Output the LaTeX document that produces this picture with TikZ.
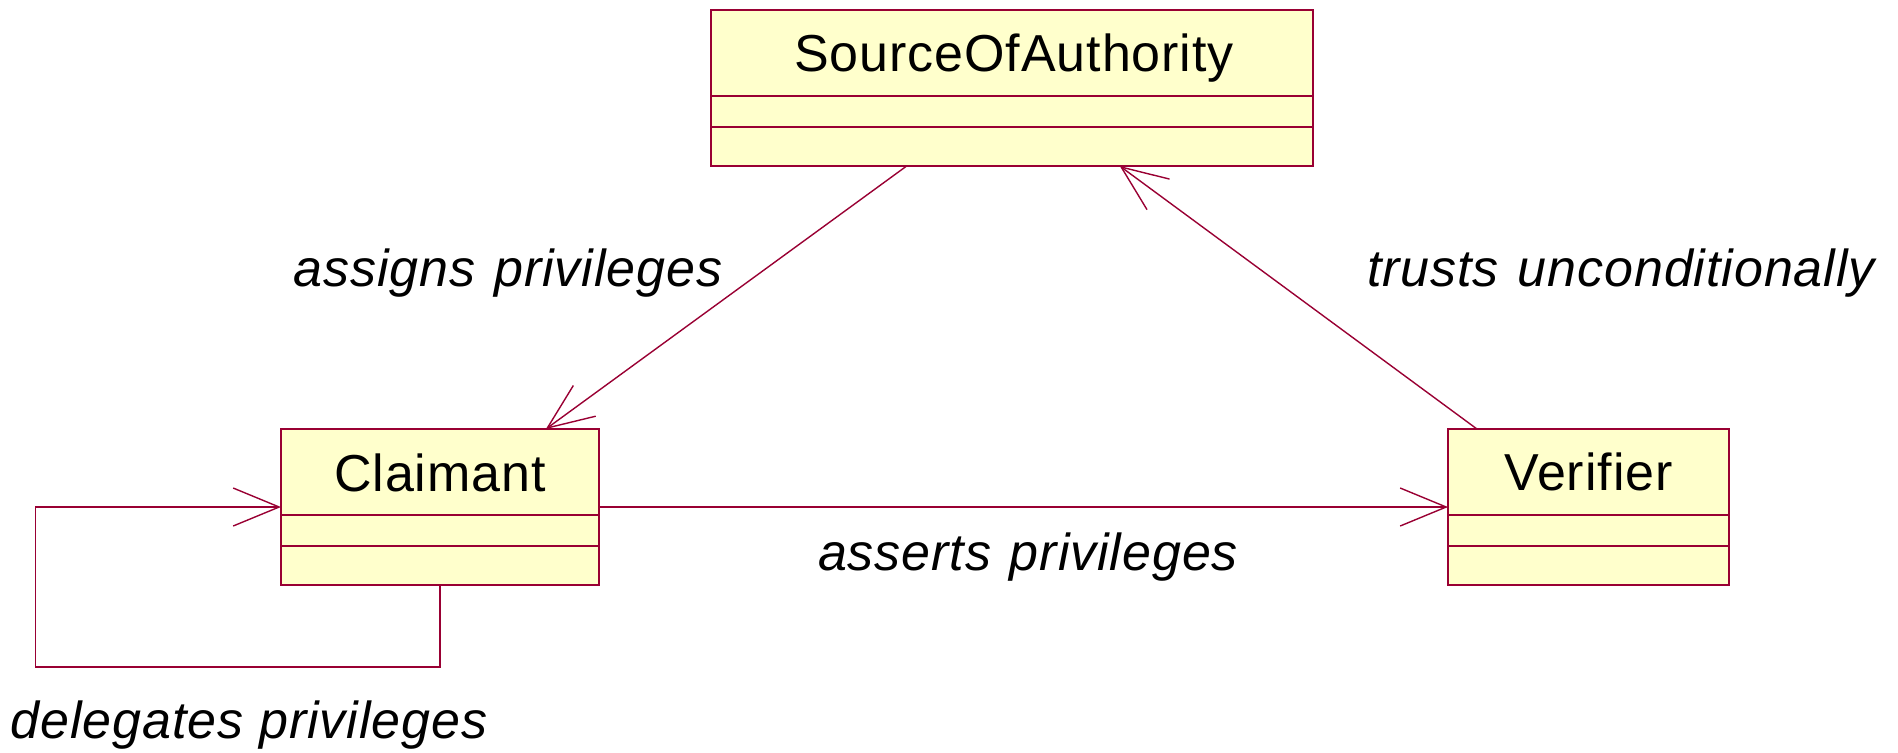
\documentclass[tikz,border=0pt]{standalone}
\usepackage{fontspec}
\setmainfont[LetterSpace=1.8]{Liberation Sans}
\usetikzlibrary{arrows.meta,calc}
\definecolor{umlline}{RGB}{153,0,51}
\definecolor{umlfill}{RGB}{255,255,204}

\begin{document}
\begin{tikzpicture}[x=0.5pt,y=-0.5pt,
  classbox/.style={draw=umlline, fill=umlfill, line width=0.7pt, inner sep=0pt, outer sep=0pt, minimum height=78pt},
  compart/.style={draw=umlline, line width=0.7pt},
  classname/.style={anchor=base, inner sep=0pt, font=\fontsize{26}{30}\selectfont},
  rolelabel/.style={anchor=base, inner sep=0pt, font=\fontsize{26}{30}\selectfont\itshape},
  assoc/.style={draw=umlline, line width=0.7pt,
    -{Straight Barb[length=23pt,width=19pt,line width=0.7pt]}}]

\useasboundingbox (0,0) rectangle (1898,752);

% class boxes
\node[classbox, minimum width=301pt] (soa) at (1012,88) {};
\node[classbox, minimum width=159pt] (cl) at (440,507) {};
\node[classbox, minimum width=140.5pt] (ver) at (1588.5,507) {};

% attribute and operation compartments
\foreach \c in {soa,cl,ver}{
  \foreach \d in {86,117}{
    \draw[compart] ($(\c.north west)+(0,\d)$) -- ($(\c.north east)+(0,\d)$);
  }
}

% class names
\node[classname] (soaT) at (1014,71.7) {SourceOfAuthority};
\node[classname] (clT) at (440,491.7) {Claimant};
\node[classname] (verT) at (1588.5,490) {Verifier};

% associations
\draw[assoc] ($(soa.south west)!0.325!(soa.south east)$) -- ($(cl.north west)!0.833!(cl.north east)$);
\draw[assoc] ($(ver.north west)!0.103!(ver.north east)$) -- ($(soa.south west)!0.679!(soa.south east)$);
\draw[assoc] (cl.east) -- (ver.west);
\coordinate (loopA) at (35.5,667);
\draw[assoc] (cl.south) |- (loopA) |- (cl.west);

% role labels
\node[rolelabel] (lAssign) at (508,286.7) {assigns\hspace{0.36em}privileges};
\node[rolelabel] (lTrust) at (1621,286.7) {trusts\hspace{0.36em}unconditionally};
\node[rolelabel] (lAssert) at (1028,570) {asserts\hspace{0.36em}privileges};
\node[rolelabel] (lDeleg) at (249,738) {delegates\hspace{0.3em}privileges};
\end{tikzpicture}
\end{document}
